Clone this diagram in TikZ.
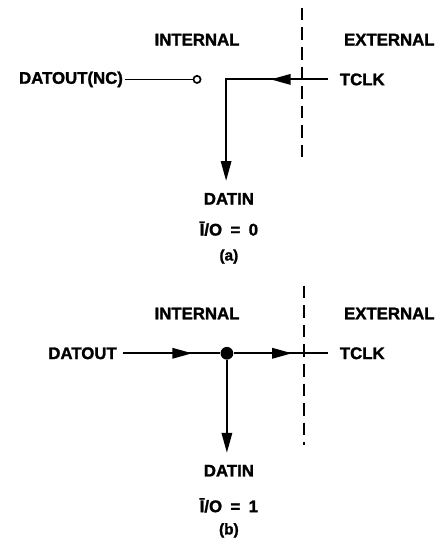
\documentclass[tikz,border=0pt]{standalone}
\usepackage{fontspec}
\setmainfont{Liberation Sans}[BoldFeatures={FakeBold=1.5}]
\usetikzlibrary{arrows.meta,decorations.markings}

\begin{document}
\begin{tikzpicture}[
    lbl/.style={font=\fontsize{12}{14}\selectfont\bfseries,inner sep=1pt},
    port/.style={lbl,inner xsep=8pt},
    sublbl/.style={font=\fontsize{11}{13}\selectfont\bfseries,inner sep=1pt},
    wire/.style={draw=black,line width=1.5pt},
    thinwire/.style={draw=black,line width=1.1pt},
    border/.style={draw=black,line width=1.3pt,dash pattern=on 9pt off 5pt},
    tip/.style={-{Triangle[length=0.5cm,width=0.26cm]}},
    midtip/.style={postaction={decorate},decoration={markings,mark=at position #1 with {\arrow{Triangle[length=0.5cm,width=0.26cm]}}}},
    nc/.style={circle,draw=black,line width=1.2pt,fill=white,inner sep=0pt,minimum size=0.18cm},
    junc/.style={circle,fill=black,inner sep=0pt,minimum size=0.32cm}]
   \path[fill=white] (0,0) rectangle (11,13.475);
   % (a) I/O = 0
   \node[lbl]             (intA)  at (4.95,12.48) {INTERNAL};
   \node[lbl]             (extA)  at (9.78,12.48) {EXTERNAL};
   \node[lbl,anchor=east] (doutA) at (3.13,11.48) {DATOUT(NC)};
   \node[port,anchor=west](tclkA) at (8.25,11.48) {TCLK};
   \node[nc]              (ncA)   at (4.95,11.48) {};
   \coordinate (cornA) at (5.68,11.48);
   \coordinate (endA)  at (5.68,8.93);
   \coordinate (topA)  at (7.58,13.28);
   \coordinate (botA)  at (7.58,9.40);
   \node[lbl]             (dinA)  at (5.75,8.48)  {DATIN};
   \node[lbl]             (ioA)   at (5.75,7.73)  {Ī/O\enspace=\enspace0};
   \node[sublbl]          (subA)  at (5.75,7.03)  {(a)};
   \draw[border] (topA)--(botA);
   \draw[thinwire] (doutA)--(ncA);
   \draw[wire,tip,midtip=1.45cm] (tclkA.west)--(cornA)--(endA);
   % (b) I/O = 1
   \node[lbl]             (intB)  at (4.95,5.60) {INTERNAL};
   \node[lbl]             (extB)  at (9.78,5.60) {EXTERNAL};
   \node[lbl,anchor=east,inner xsep=4pt] (doutB) at (3.08,4.6) {DATOUT};
   \node[port,anchor=west](tclkB) at (8.25,4.6)  {TCLK};
   \node[junc]            (jB)    at (5.7,4.6)   {};
   \coordinate (endB)  at (5.7,2.1);
   \coordinate (topB)  at (7.63,6.30);
   \coordinate (botB)  at (7.63,2.30);
   \node[lbl]             (dinB)  at (5.75,1.65) {DATIN};
   \node[lbl]             (ioB)   at (5.75,0.78) {Ī/O\enspace=\enspace1};
   \node[sublbl]          (subB)  at (5.75,0.15) {(b)};
   \draw[border] (topB)--(botB);
   \draw[wire,midtip=1.75cm] (doutB)--(jB);
   \draw[wire,midtip=1.47cm] (jB)--(tclkB.west);
   \draw[wire,tip] (jB)--(endB);
\end{tikzpicture}
\end{document}
